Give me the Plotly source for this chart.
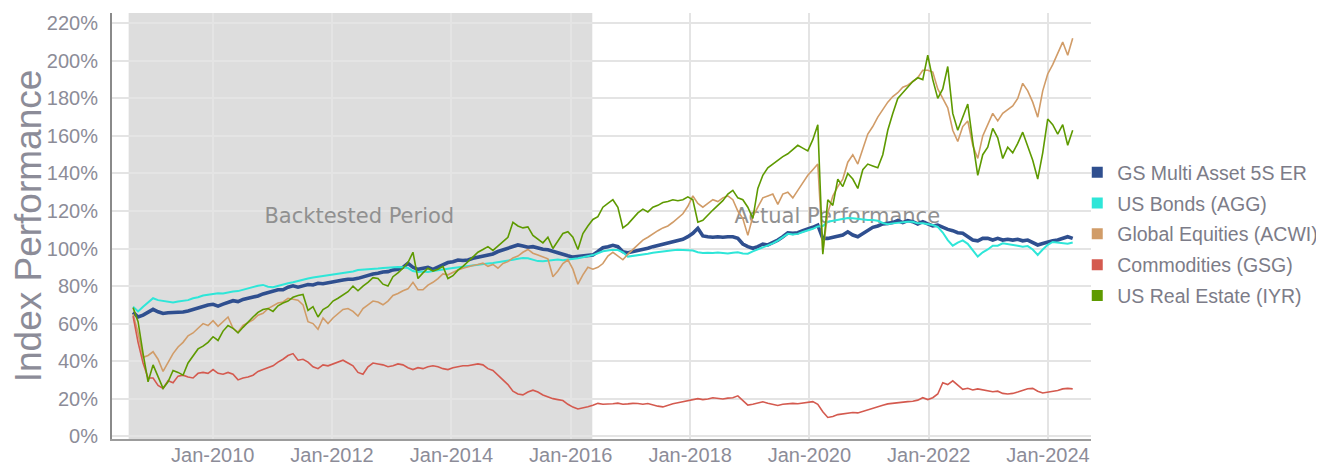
import pandas as pd
import plotly.graph_objects as go

# ---- data (index performance, % of start) ----
dates = pd.date_range("2008-08-31", "2024-05-31", periods=189)

gs_multi_asset = [
    66, 63.5, 64.5, 66.3, 67.6, 66.3, 65.4, 65.8, 65.8, 66, 66.2, 66.7, 67.6, 68.1, 69.3, 69.9, 70.3, 69.3, 70.4, 71.2,
    72.2, 71.7, 72.9, 73.5, 74, 74.7, 75.8, 76.5, 77.1, 78, 78, 79.4, 80.1, 79.4, 80.1, 80.8, 80.6, 81.5, 81.2, 81.8,
    82.4, 82.9, 83.2, 83.6, 83.6, 84.1, 85, 85.7, 86.4, 86.8, 87.5, 87.7, 88.6, 88.9, 90, 92.1, 90, 88.9, 89.3, 90,
    88.9, 90, 91.5, 92.5, 93, 93.9, 93.6, 93.9, 94.8, 95.4, 96.1, 96.6, 97.1, 98.4, 99.3, 100.2, 101, 101.9, 101.4, 100.7,
    101, 100.2, 99.6, 99.3, 98.4, 97.5, 96.6, 96.1, 95.4, 95.7, 96.1, 96.1, 96.6, 98.4, 100.4, 101, 101.7, 101, 98.3, 97.8,
    98.3, 98.9, 99.6, 100.1, 101, 101.7, 102.4, 103.1, 103.8, 104.5, 104.9, 106.3, 108.1, 110.8, 106.7, 106.3, 106, 106.3, 106, 106.3,
    106.3, 105.4, 102.4, 101, 100.1, 101, 102.4, 101.9, 103.1, 104.5, 106.3, 108.4, 108.1, 108.4, 109.5, 110.2, 111.3, 112.5, 105.4, 105.4,
    105.9, 106.3, 107.2, 108.9, 107.2, 106.3, 108.1, 109.9, 111.3, 112, 113.1, 113.4, 113.8, 114.9, 113.8, 114.9, 114.3, 113.1, 114.3, 113.1,
    112, 112.5, 111.3, 110.2, 109.5, 108.4, 108.1, 106.3, 104.5, 104.1, 105.4, 105.4, 104.5, 105.4, 104.5, 104.9, 104.5, 104.9, 104.1, 104.5,
    103.1, 101.9, 102.7, 103.6, 104.1, 104.5, 105.4, 106.3, 105.4,
]

us_bonds_agg = [
    69, 66.5, 69, 71.5, 73.5, 72.5, 72, 71.8, 71.3, 71.8, 72.2, 72.5, 73.5, 74, 75, 75.5, 76, 76.2, 76, 76.7,
    77.1, 77.3, 78, 79, 79.4, 80.2, 80.6, 79.6, 79.4, 80.2, 80.8, 81.5, 82, 82.8, 83.5, 84, 84.6, 85, 85.2, 85.7,
    86.2, 86.6, 86.8, 87.3, 87.8, 88.5, 88.6, 88.9, 89.1, 89.3, 89.6, 89.8, 90, 90.2, 90, 89.6, 88, 87.5, 87.8, 87.5,
    88, 88.3, 88.6, 89.2, 89.6, 90, 90.4, 90.6, 90.8, 91.3, 91.6, 92, 92.3, 92.7, 93, 93.2, 94, 94.6, 95, 94.8,
    94.2, 93.3, 93.2, 93.6, 94, 94.2, 93.8, 94, 94.3, 94.8, 95.3, 95.8, 96.5, 97.5, 98.5, 99, 99.3, 99.2, 98, 95.7,
    96, 96.3, 96.6, 97.2, 97.8, 98.2, 98.6, 98.9, 99.1, 99.3, 99.3, 99.2, 98.9, 98, 97.6, 97.8, 97.6, 97.9, 97.6, 97.3,
    97.8, 98, 97.4, 97.2, 98.5, 99.5, 100.8, 101.5, 102.7, 104.2, 106, 107.8, 107.5, 107.8, 108.8, 109.6, 110.5, 111.8, 112, 114.3,
    114.9, 115.4, 115.9, 116.3, 116.1, 115.7, 115.7, 115.2, 115.2, 114.8, 113.6, 113, 113.4, 113.8, 113.8, 114.3, 114.3, 113.4, 113.4, 113,
    112.5, 111.5, 108.5, 104.5, 101.5, 103.1, 104.3, 102.5, 99, 95.7, 98, 99.5, 101.5, 101.5, 102.8, 102.5, 101.9, 101.5, 101, 101.3,
    99.5, 96.6, 99.5, 102, 103.5, 103.3, 103.1, 102.5, 103.2,
]

global_equities_acwi = [
    65, 55, 42, 43, 45, 41, 34.5, 39, 44, 47.5, 50, 53.5, 55, 57.5, 60, 59, 61.5, 58.5, 61, 63.5,
    57.5, 55.5, 59, 60.5, 62, 64.5, 65.5, 68, 69.5, 71, 71.5, 73.5, 73, 72.5, 70, 61, 60, 57, 63, 60,
    63, 65, 67.5, 68, 66.5, 64, 68, 70, 72, 71.5, 70, 72, 75, 76, 77.5, 78.5, 82, 78, 78, 80.5,
    82, 84, 86.5, 86, 87.5, 88.6, 89.5, 90.4, 91, 91.5, 92.2, 90.5, 91.5, 89.5, 92, 93, 95, 96, 98, 99.5,
    97.5, 96.5, 95.5, 94.5, 85, 88, 92, 94, 89, 81, 86, 90, 89, 90, 92, 96, 98, 96, 94, 97,
    99.5, 102, 104.5, 106, 108, 109.5, 111, 112, 114, 116, 118.5, 122.5, 128, 124, 122, 124, 126, 125, 127, 128,
    126, 120, 116, 107, 117, 122, 127, 128, 129, 123.5, 129, 130, 127, 131, 135, 139, 142, 145, 98, 119,
    128, 133, 137, 146, 150, 145, 153, 161, 165, 170, 174, 178, 181, 183, 186, 187, 189, 191, 195, 195,
    194, 185, 180, 175, 163, 157, 165, 168, 155, 148, 160, 166, 172, 168, 172, 174, 176, 180, 188, 184,
    178, 170, 184, 193, 198, 204, 210, 203, 212,
]

commodities_gsg = [
    64, 50, 39, 31, 31, 27, 25.5, 29.5, 28.5, 32, 32.5, 31.5, 31, 33.5, 34, 33.5, 35.5, 33.5, 33, 34,
    33, 30, 31, 31.5, 32.5, 34.5, 35.5, 36.5, 37.5, 39.5, 41, 43, 44, 40.5, 41, 39.5, 37, 36, 38, 37.5,
    38.5, 39.5, 40.5, 39, 37.5, 34, 33, 37, 39, 38.5, 38, 37, 37.5, 38.5, 38, 36.5, 35.5, 36.5, 36, 37,
    37.5, 37, 36, 35.5, 36.5, 37, 37.5, 37.5, 38, 38.5, 38, 36, 35, 32.5, 30, 27.5, 24, 22.5, 22, 23.5,
    24.5, 23.5, 22, 21, 20, 19.5, 19, 17, 15.5, 14.5, 15, 15.7, 16.5, 17.5, 17, 17, 17.3, 17.6, 17, 17.2,
    17.5, 17.4, 17, 17.4, 16.6, 16, 15.6, 16.5, 17.3, 17.8, 18.3, 18.8, 19.3, 20, 19.5, 19.8, 20.5, 20, 19.8, 20.3,
    20.5, 21.5, 19, 16.6, 17, 17.6, 18.3, 17.6, 17.2, 16.4, 17, 17.4, 17.5, 17.3, 17.8, 18.2, 18.4, 17, 13, 10,
    10.5, 11.5, 12, 12.2, 12.6, 12.4, 13.3, 14.2, 15, 15.8, 16.5, 17.2, 17.6, 17.6, 18, 18.4, 18.6, 19.2, 20.5, 19.5,
    20.5, 22.5, 28.5, 27.5, 29.5, 27, 25, 25.5, 24.6, 25.2, 24.8, 24.2, 23.7, 24, 22.8, 22.5, 22.8, 23.5, 24.5, 25.3,
    25.5, 24, 23, 23.5, 23.7, 24.3, 25.2, 25.5, 25.2,
]

us_real_estate_iyr = [
    68.5, 61, 44, 29, 38, 32, 25.5, 29, 35, 34, 32.5, 39, 43, 46.5, 48, 50, 53, 51, 56, 59,
    57.5, 55, 58, 61, 63.5, 66, 67.5, 68, 66.5, 69.5, 71, 72, 74, 75, 75.5, 67, 69, 63.5, 67.5, 69,
    72, 73.5, 75.5, 77, 80, 77.5, 80, 82, 84.5, 84, 81, 80, 85, 87, 89.5, 92.5, 98, 84, 87, 89.5,
    88, 89, 90.5, 84, 85.5, 88.5, 90.5, 93, 95.5, 98, 99.5, 101, 99, 101.5, 103.5, 106, 114, 112, 111, 111.5,
    107, 105, 103, 106, 100, 104, 108, 109, 106, 99.5, 108, 112, 115.5, 117, 122, 124, 126, 122, 111, 113,
    116, 119, 121, 119.5, 122, 123, 124.5, 125, 126, 125.5, 126, 127.5, 126, 114, 115, 118, 120.5, 123, 125.5, 129,
    131, 127, 126, 122, 116, 132, 139, 143, 145, 147, 149, 150.5, 153, 155, 153.5, 152, 158, 166, 97, 126,
    123, 137, 133, 140, 137, 132, 142, 145, 144, 143, 150, 163, 172, 180, 183, 186, 189, 191, 190, 203,
    190, 180, 185, 197, 172, 163, 170, 177, 157, 139, 150, 154, 164, 159, 148, 154, 151, 156, 162, 155,
    147, 137, 151, 169, 166, 161, 166, 155, 163,
]

series_names = ["GS Multi Asset 5S ER", "US Bonds (AGG)", "Global Equities (ACWI)",
                "Commodities (GSG)", "US Real Estate (IYR)"]
series_values = [gs_multi_asset, us_bonds_agg, global_equities_acwi, commodities_gsg, us_real_estate_iyr]
series_colors = ["#2f4f8f", "#2ee6d8", "#d19c68", "#d45a4f", "#5e9a00"]
series_widths = [3.6, 2, 1.6, 1.6, 1.6]

period_labels = ["Backtested Period", "Actual Performance"]
period_label_x = ["2012-06-16", "2020-06-20"]
period_label_y = [116.3, 116.3]

backtest_start, backtest_end = "2008-08-04", "2016-05-12"
y_ticks = list(range(0, 221, 20))
y_tick_text = [f"{v}%" for v in y_ticks]

TEXT_GREY = "#8c8c98"

fig = go.Figure()

# period labels (drawn first so the lines pass over them)
fig.add_trace(go.Scatter(
    x=pd.to_datetime(period_label_x), y=period_label_y, mode="text", text=period_labels,
    textfont=dict(family="DejaVu Sans", size=21, color="#909090"),
    showlegend=False, hoverinfo="skip",
))

for name, vals, col, w in zip(series_names, series_values, series_colors, series_widths):
    fig.add_trace(go.Scatter(
        x=dates, y=vals, mode="lines", name=name, legendgroup=name,
        line=dict(color=col, width=w), showlegend=False,
    ))

# square legend markers
for name, col in zip(series_names, series_colors):
    fig.add_trace(go.Scatter(
        x=[None], y=[None], mode="markers", name=name, legendgroup=name,
        marker=dict(symbol="square", size=11, color=col), showlegend=True,
    ))

fig.add_shape(type="rect", xref="x", yref="paper", x0=backtest_start, x1=backtest_end,
              y0=0, y1=1, fillcolor="rgba(110,110,110,0.23)", line=dict(width=0), layer="between")

# the page body adds an 8px offset, so the figure is 8px smaller than the window
fig.update_layout(
    template="none",
    width=1316, height=458,
    margin=dict(l=104, r=233, t=5, b=27, autoexpand=False),
    plot_bgcolor="white", paper_bgcolor="white",
    font=dict(family="Liberation Sans, Arial, sans-serif", color=TEXT_GREY, size=20),
    legend=dict(
        xref="container", yref="container",
        x=0.8125, xanchor="left", y=0.5066, yanchor="middle",
        font=dict(size=19.5, color="#7c7c88"), bgcolor="rgba(0,0,0,0)",
        borderwidth=0, tracegroupgap=2.5,
    ),
    hovermode="x unified",
)

fig.update_xaxes(
    type="date", range=["2008-04-24", "2024-09-20"], automargin=False,
    tick0="2010-01-01", dtick="M24", tickformat="%b-%Y",
    showgrid=True, gridcolor="#e4e4e4", gridwidth=2,
    showline=True, linecolor="#9c9c9c", linewidth=2,
    ticks="", tickfont=dict(size=20, color=TEXT_GREY), ticklabelstandoff=-3,
    zeroline=False,
)

fig.update_yaxes(
    range=[-1.5, 225.5], tickvals=y_ticks, ticktext=y_tick_text, automargin=False,
    showgrid=True, gridcolor="#e4e4e4", gridwidth=2,
    showline=True, linecolor="#8a8a8a", linewidth=2,
    ticks="", tickfont=dict(size=20, color=TEXT_GREY), ticklabelstandoff=8,
    zeroline=False,
    title=dict(text="Index Performance", font=dict(size=37, color=TEXT_GREY), standoff=0),
)

fig.write_html("out.html")
